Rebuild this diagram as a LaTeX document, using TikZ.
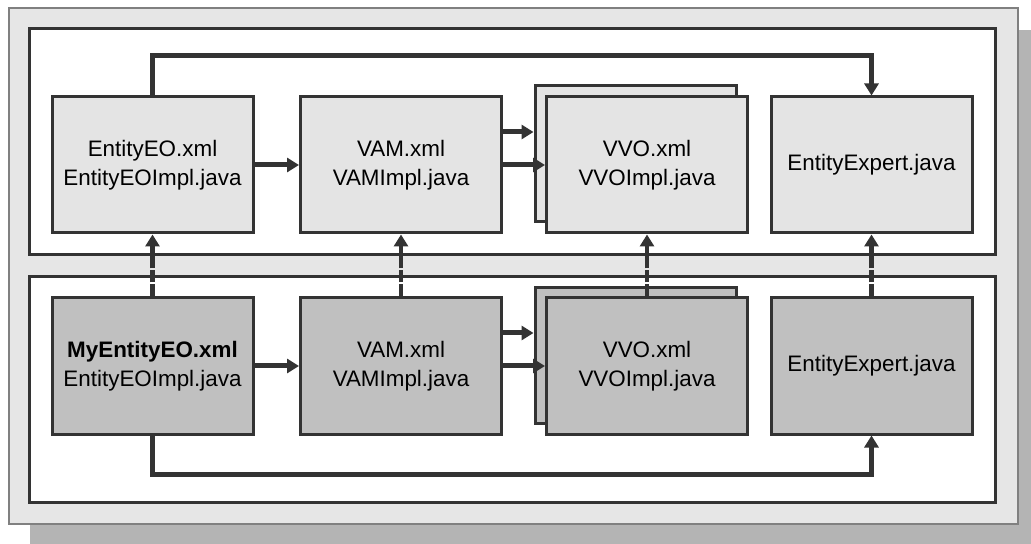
\documentclass[tikz,border=0pt]{standalone}
\usepackage{fontspec}
\setmainfont{Liberation Sans}
\usetikzlibrary{arrows.meta}
\definecolor{ink}{HTML}{333333}
\definecolor{toppane}{HTML}{E4E4E4}
\definecolor{botpane}{HTML}{C0C0C0}
\definecolor{frame}{HTML}{E6E6E6}
\definecolor{shadowgrey}{HTML}{B4B4B4}
\tikzset{
  >={Triangle[length=6pt,width=7pt]},
}
\tikzstyle{file}=[draw=ink,line width=1.5pt,minimum width=100.5pt,minimum height=68pt,
  align=center,inner sep=0pt,font=\fontsize{11.2}{14.5}\selectfont]
\tikzstyle{upper}=[file,fill=toppane]
\tikzstyle{lower}=[file,fill=botpane]
\tikzstyle{link}=[draw=ink,line width=2.5pt,->]
\tikzstyle{ext}=[draw=ink,line width=2.2pt,dash pattern=on 6pt off 1pt,->]
\tikzstyle{pane}=[draw=ink,line width=1.5pt,fill=white]

\begin{document}
\begin{tikzpicture}[x=0.5pt,y=-0.5pt]
    \useasboundingbox (0,0) rectangle (1031,544);
    \fill[shadowgrey] (30,30) rectangle (1031,544);
    \draw[fill=frame,draw=gray,line width=0.6pt] (9,8) rectangle (1018,524);
    \draw[pane] (29,29) rectangle (995,255);
    \draw[pane] (29,277) rectangle (995,502);
    % base layer
    \node[upper] (eo1) at (152.5,165) {EntityEO.xml\\EntityEOImpl.java};
    \node[upper] (vam1) at (401,165) {VAM.xml\\VAMImpl.java};
    \node[upper] (vob1) at (635.5,153.5) {};
    \node[upper] (vo1) at (647,165) {VVO.xml\\VVOImpl.java};
    \node[upper] (ex1) at (871.5,165) {EntityExpert.java};
    % extended layer
    \node[lower] (eo2) at (152.5,366) {\textbf{MyEntityEO.xml}\\EntityEOImpl.java};
    \node[lower] (vam2) at (401,366) {VAM.xml\\VAMImpl.java};
    \node[lower] (vob2) at (635.5,355.5) {};
    \node[lower] (vo2) at (647,366) {VVO.xml\\VVOImpl.java};
    \node[lower] (ex2) at (871.5,366) {EntityExpert.java};
    % links in each layer
    \draw[link] (eo1.east) -- (vam1.west);
    \draw[link] ([yshift=16.5pt]vam1.east) -- ([yshift=16.5pt]vam1.east -| vob1.west);
    \draw[link] (vam1.east) -- (vo1.west);
    \draw[link] (eo1.north) -- ++(0,-40) -| (ex1.north);
    \draw[link] (eo2.east) -- (vam2.west);
    \draw[link] ([yshift=16.5pt]vam2.east) -- ([yshift=16.5pt]vam2.east -| vob2.west);
    \draw[link] (vam2.east) -- (vo2.west);
    \draw[link] (eo2.south) -- ++(0,39) -| (ex2.south);
    % extends
    \draw[ext] (eo2.north) -- (eo1.south);
    \draw[ext,line width=1.6pt] (vam2.north) -- (vam1.south);
    \draw[ext] (vo2.north) -- (vo1.south);
    \draw[ext] (ex2.north) -- (ex1.south);
\end{tikzpicture}
\end{document}
